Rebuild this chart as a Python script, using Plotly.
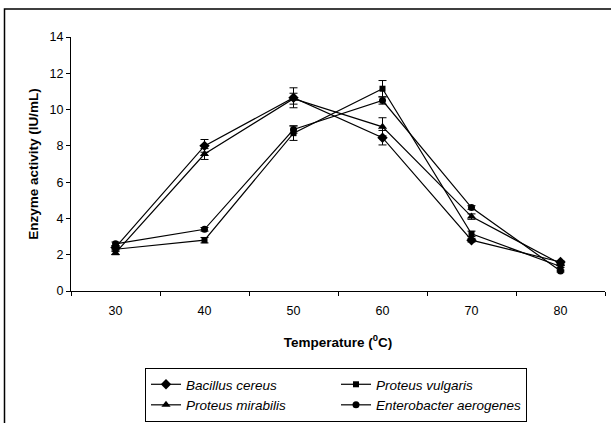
import plotly.graph_objects as go

temps = [30, 40, 50, 60, 70, 80]
series_names = ["Bacillus cereus", "Proteus vulgaris", "Proteus mirabilis", "Enterobacter aerogenes"]
bacillus = [2.4, 8.0, 10.65, 8.45, 2.8, 1.6]
bacillus_err = [0.1, 0.35, 0.55, 0.4, 0.1, 0.05]
vulgaris = [2.3, 2.8, 8.7, 11.15, 3.15, 1.35]
vulgaris_err = [0.1, 0.15, 0.4, 0.45, 0.15, 0.05]
mirabilis = [2.1, 7.55, 10.6, 9.05, 4.1, 1.5]
mirabilis_err = [0.1, 0.3, 0.3, 0.5, 0.15, 0.05]
enterobacter = [2.6, 3.4, 8.9, 10.5, 4.6, 1.1]
enterobacter_err = [0.1, 0.1, 0.2, 0.2, 0.1, 0.05]

y_ticks = [0, 2, 4, 6, 8, 10, 12, 14]

values = [bacillus, vulgaris, mirabilis, enterobacter]
errors = [bacillus_err, vulgaris_err, mirabilis_err, enterobacter_err]
symbols = ["diamond", "square", "triangle-up", "circle"]
sizes = [8, 6, 8, 7]

fig = go.Figure()
for name, v, e, s, sz in zip(series_names, values, errors, symbols, sizes):
    fig.add_trace(go.Scatter(
        x=temps, y=v, name=name, mode="lines+markers",
        line=dict(color="black", width=1.2),
        marker=dict(symbol=s, size=sz, color="black"),
        error_y=dict(type="data", array=e, visible=True, color="black", thickness=1, width=4),
    ))

L, R, T, B = 71, 6, 37, 132
W, H = 611, 423
pw = W - L - R
ph = H - T - B

def px(x):
    return (x - L) / pw

def py(y):
    return (H - B - y) / ph

fig.update_layout(
    width=W, height=H,
    margin=dict(l=L, r=R, t=T, b=B, pad=0, autoexpand=False),
    paper_bgcolor="white", plot_bgcolor="white",
    font=dict(family="Liberation Sans, Arial, sans-serif", size=12.5, color="black"),
    showlegend=True,
    legend=dict(
        orientation="h", x=145 / W, y=1 - 368 / H, xanchor="left", yanchor="top",
        xref="container", yref="container",
        bordercolor="black", borderwidth=1, bgcolor="white",
        entrywidth=145, entrywidthmode="pixels", itemwidth=30,
        font=dict(family="Liberation Sans, Arial, sans-serif", size=13.5, style="italic"),
        traceorder="normal", tracegroupgap=0,
    ),
    xaxis=dict(
        range=[25, 85], tickvals=temps, ticktext=[str(t) for t in temps],
        ticks="", showline=True, linecolor="black", linewidth=1,
        showgrid=False, zeroline=False, fixedrange=True, automargin=False,
        minor=dict(tickvals=[25, 35, 45, 55, 65, 75, 85], ticks="outside", ticklen=4,
                   tickcolor="black", showgrid=False),
        title=dict(text="<b>Temperature (<sup>0</sup>C)</b>", standoff=20,
                   font=dict(size=13.5)),
        ticklabelstandoff=8,
    ),
    yaxis=dict(
        range=[0, 14], tickvals=y_ticks, ticks="outside", ticklen=4, tickcolor="black",
        showline=True, linecolor="black", linewidth=1,
        showgrid=False, zeroline=False, fixedrange=True, automargin=False,
        title=dict(text="<b>Enzyme activity (IU/mL)</b>", standoff=7, font=dict(size=13.5)),
    ),
    shapes=[dict(type="rect", xref="paper", yref="paper",
                 x0=px(4.5), x1=px(640), y0=py(9), y1=py(460),
                 line=dict(color="black", width=1.5), fillcolor="rgba(0,0,0,0)", layer="below")],
)

fig.write_html("out.html")
